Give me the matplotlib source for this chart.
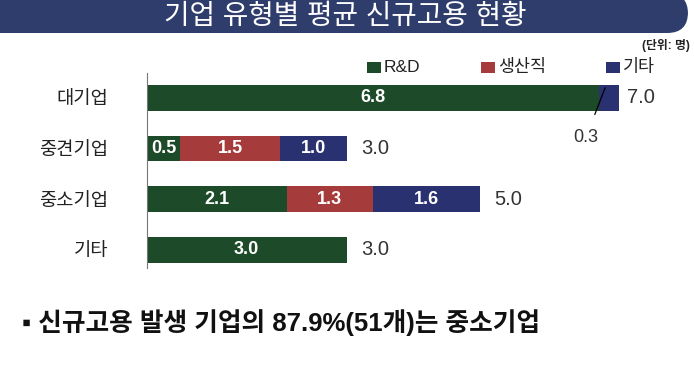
import matplotlib.pyplot as plt
from matplotlib.patches import FancyBboxPatch, Rectangle

plt.rcParams["font.family"] = ["Liberation Sans", "Noto Sans CJK KR", "DejaVu Sans"]

# ── data ──────────────────────────────────────────────────────────────────────
categories = ["대기업", "중견기업", "중소기업", "기타"]
series_names = ["R&D", "생산직", "기타"]
rnd = [6.8, 0.5, 2.1, 3.0]
production = [0.0, 1.5, 1.3, 0.0]
other = [0.3, 1.0, 1.6, 0.0]
totals = ["7.0", "3.0", "5.0", "3.0"]

title = "기업 유형별 평균 신규고용 현황"
unit = "(단위: 명)"
note = "▪ 신규고용 발생 기업의 87.9%(51개)는 중소기업"

GREEN = "#1d4a28"
RED = "#a63b3b"
NAVY = "#2a3170"
BANNER = "#2f3d6c"
colors = [GREEN, RED, NAVY]

W, H = 694, 389
fig = plt.figure(figsize=(W / 100, H / 100), dpi=100)


def px(x, y):
    return x / W, 1 - y / H


# title banner with rounded top-right corner
fig.patches.append(
    FancyBboxPatch(px(0, 33), 688 / W, 40 / H,
                   boxstyle="round,pad=0,rounding_size=0.03",
                   transform=fig.transFigure, facecolor=BANNER,
                   edgecolor="none", mutation_aspect=W / H)
)
fig.patches.append(
    Rectangle(px(0, 33), 0.5, 40 / H, transform=fig.transFigure,
              facecolor=BANNER, edgecolor="none")
)
fig.text(*px(345, 17), title, ha="center", va="center", color="white",
         fontsize=20)

fig.text(*px(690, 45), unit, ha="right", va="center", color="#222222",
         fontsize=8.5, fontweight="bold")

# legend
leg_x = [367, 481, 606]
for x, name, c in zip(leg_x, series_names, colors):
    fig.patches.append(Rectangle(px(x, 73), 14 / W, 11 / H,
                                 transform=fig.transFigure, facecolor=c))
    fig.text(*px(x + 17, 67), name, ha="left", va="center", color="#222222",
             fontsize=12.5)

# ── bars ──────────────────────────────────────────────────────────────────────
ax = fig.add_axes([147 / W, (H - 268) / H, 532 / W, 195 / H])
ys = list(range(len(categories)))
left = [0.0] * len(categories)
for vals, c in zip([rnd, production, other], colors):
    ax.barh(ys, vals, left=left, height=0.51, color=c, edgecolor="none")
    for y, v, l in zip(ys, vals, left):
        if v >= 0.5:
            ax.text(l + v / 2, y, f"{v:.1f}", ha="center", va="center",
                    color="white", fontsize=13, fontweight="bold")
    left = [l + v for l, v in zip(left, vals)]

for y, tot, l in zip(ys, totals, left):
    end = min(l, float(tot))
    ax.text(end + 0.22, y, tot, ha="left", va="center", color="#333333",
            fontsize=14.5)

# small segment callout
ax.annotate(f"{other[0]:.1f}", xy=(rnd[0] + other[0] * 0.3, -0.2),
            xytext=(rnd[0] - 0.2, 0.78), ha="center", va="center",
            fontsize=13, color="#333333",
            arrowprops=dict(arrowstyle="-", color="black", lw=0.9,
                            shrinkA=9, shrinkB=0))

ax.set_xlim(0, 8)
ax.set_ylim(3.355, -0.49)
ax.set_yticks(ys)
ax.set_yticklabels(categories, fontsize=13.5)
ax.tick_params(axis="y", length=0, pad=28, colors="#222222")
ax.set_xticks([])
for s in ["top", "right", "bottom"]:
    ax.spines[s].set_visible(False)
ax.spines["left"].set_color("#777777")
ax.spines["left"].set_linewidth(0.8)

fig.text(*px(22, 323), note, ha="left", va="center", color="#111111",
         fontsize=18.5, fontweight="bold")

fig.savefig("out.png", dpi=100)
